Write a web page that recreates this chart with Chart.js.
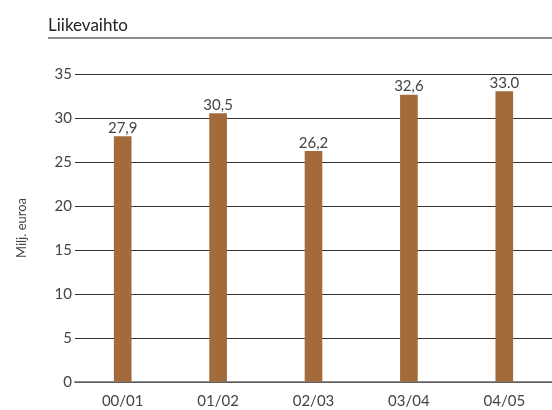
<!DOCTYPE html>
<html>
<head>
<meta charset="utf-8">
<script src="https://cdn.jsdelivr.net/npm/chart.js@4"></script>
<style>
  html, body { margin: 0; padding: 0; background: #fff; }
  #wrap { width: 552px; height: 410px; }
</style>
</head>
<body>
<div id="wrap"><canvas id="myChart" width="552" height="410"></canvas></div>
<script>
// Liikevaihto, milj. euroa
var kaudet = ['00/01', '01/02', '02/03', '03/04', '04/05'];
var liikevaihto = [27.9, 30.5, 26.2, 32.6, 33.0];
var arvoTekstit = ['27,9', '30,5', '26,2', '32,6', '33.0'];
var yTicks = [0, 5, 10, 15, 20, 25, 30, 35];

var fontti = 'Lato, "Open Sans", sans-serif';

// otsikko + viiva ylhäällä, arvot pylväiden päälle
var piirto = {
    id: 'piirto',
    afterDraw: function (chart) {
        var c = chart.ctx;
        c.save();
        c.fillStyle = '#222';
        c.font = '17px ' + fontti;
        c.textBaseline = 'alphabetic';
        c.textAlign = 'left';
        c.fillText('Liikevaihto', 48, 31);
        c.strokeStyle = '#8c8c8c';
        c.lineWidth = 2;
        c.beginPath();
        c.moveTo(48, 38);
        c.lineTo(552, 38);
        c.stroke();

        var meta = chart.getDatasetMeta(0);
        c.fillStyle = '#444';
        c.font = '15px ' + fontti;
        c.textAlign = 'center';
        c.textBaseline = 'bottom';
        meta.data.forEach(function (bar, i) {
            c.fillText(arvoTekstit[i], bar.x, bar.y - 1);
        });
        c.restore();
    }
};

var ctx = document.getElementById('myChart');
var myChart = new Chart(ctx, {
    type: 'bar',
    data: {
        labels: kaudet,
        datasets: [{
            data: liikevaihto,
            backgroundColor: '#a36b3b',
            barThickness: 17
        }]
    },
    options: {
        responsive: false,
        animation: false,
        layout: { padding: { top: 74, left: 14, right: 0, bottom: -3 } },
        plugins: {
            legend: { display: false },
            tooltip: { enabled: false }
        },
        scales: {
            x: {
                grid: { display: false },
                border: { display: true, color: '#8c8c8c', width: 1.5 },
                ticks: { color: '#444', font: { family: fontti, size: 15, lineHeight: 1 }, padding: 4 }
            },
            y: {
                min: 0,
                max: 35,
                afterBuildTicks: function (axis) {
                    axis.ticks = yTicks.map(function (v) { return { value: v }; });
                },
                grid: { color: '#333', drawTicks: false },
                border: { display: false },
                ticks: { color: '#444', font: { family: fontti, size: 15 }, padding: 3 },
                title: {
                    display: true,
                    text: 'Milj. euroa',
                    color: '#444',
                    font: { family: fontti, size: 13 },
                    padding: { top: 0, bottom: 22 }
                }
            }
        }
    },
    plugins: [piirto]
});
</script>
</body>
</html>
